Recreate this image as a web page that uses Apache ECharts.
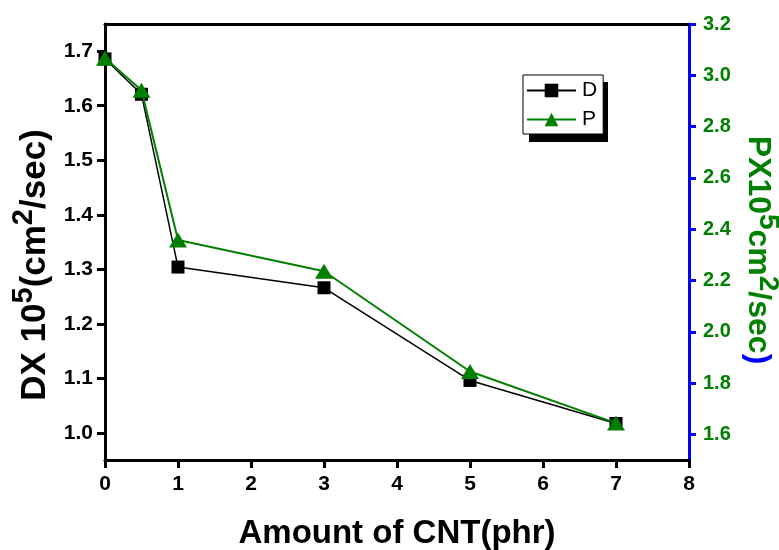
<!DOCTYPE html>
<html>
<head>
<meta charset="utf-8">
<script src="https://cdn.jsdelivr.net/npm/echarts@6/dist/echarts.min.js"></script>
<style>html,body{margin:0;padding:0;background:#fff;}#chart{width:779px;height:550px;}</style>
</head>
<body>
<div id="chart"></div>
<script>
const cntAmount = [0, 0.5, 1, 3, 5, 7];
const dValues = [1.686, 1.621, 1.304, 1.266, 1.096, 1.017];
const pValues = [3.066, 2.942, 2.358, 2.236, 1.845, 1.644];
const leftTicks = [1.0, 1.1, 1.2, 1.3, 1.4, 1.5, 1.6, 1.7];
const rightTicks = [1.6, 1.8, 2.0, 2.2, 2.4, 2.6, 2.8, 3.0, 3.2];
const xTicks = [0, 1, 2, 3, 4, 5, 6, 7, 8];

const FONT = 'Liberation Sans';
const GREEN = '#008000';
const BLUE = '#0000ff';

const chart = echarts.init(document.getElementById('chart'), null, {renderer: 'canvas'});

function titleRich(color, size, supSize, raise) {
  return {
    b: {fontFamily: FONT, fontSize: size, fontWeight: 'bold', color: color, verticalAlign: 'bottom', lineHeight: size + 14},
    s: {fontFamily: FONT, fontSize: supSize, fontWeight: 'bold', color: color, verticalAlign: 'bottom', padding: [0, 0, raise, 0]},
    p: {fontFamily: FONT, fontSize: size, fontWeight: 'bold', color: BLUE, verticalAlign: 'bottom', lineHeight: size + 14}
  };
}

chart.setOption({
  animation: false,
  backgroundColor: '#fff',
  grid: {left: 105, right: 90, top: 24, bottom: 90, containLabel: false, outerBoundsMode: 'none'},
  graphic: [{
    type: 'rect', left: 529, top: 82, z: 0, silent: true,
    shape: {width: 79, height: 60},
    style: {fill: '#000'}
  }],
  legend: {
    left: 523, top: 75, z: 5,
    orient: 'vertical',
    itemWidth: 49, itemHeight: 17, itemGap: 8,
    padding: [5, 6, 4, 3],
    backgroundColor: '#fff',
    borderColor: '#000', borderWidth: 1,
    textStyle: {fontFamily: FONT, fontSize: 21, color: '#000', padding: [0, 0, 0, 1]},
    data: ['D', 'P']
  },
  xAxis: [{
    type: 'value', min: 0, max: 8, interval: 1, position: 'bottom',
    name: 'Amount of CNT(phr)', nameLocation: 'middle', nameGap: 57,
    nameTextStyle: {fontFamily: FONT, fontSize: 33, fontWeight: 'bold', color: '#000'},
    axisLine: {show: true, onZero: false, lineStyle: {color: '#000', width: 3}},
    axisTick: {show: true, inside: false, length: 8, lineStyle: {color: '#000', width: 3}},
    axisLabel: {fontFamily: FONT, fontSize: 21, fontWeight: 'bold', color: '#000', margin: 14,
      customValues: xTicks, formatter: v => String(v)},
    splitLine: {show: false}
  }, {
    type: 'value', min: 0, max: 8, position: 'top',
    axisLine: {show: true, onZero: false, lineStyle: {color: '#000', width: 3}},
    axisTick: {show: false}, axisLabel: {show: false}, splitLine: {show: false}
  }],
  yAxis: [{
    type: 'value', min: 0.95, max: 1.75, position: 'left',
    name: '{b|DX 10}{s|5}{b|(cm}{s|2}{b|/sec)}', nameLocation: 'middle', nameGap: 50, nameRotate: 90,
    nameTextStyle: {rich: titleRich('#000', 35, 29, 14), padding: [0, 46, 0, 0]},
    axisLine: {show: true, onZero: false, lineStyle: {color: '#000', width: 3}},
    axisTick: {show: true, inside: false, length: 8, lineStyle: {color: '#000', width: 3}, customValues: leftTicks},
    axisLabel: {fontFamily: FONT, fontSize: 21, fontWeight: 'bold', color: '#000', margin: 12,
      customValues: leftTicks, formatter: v => v.toFixed(1)},
    splitLine: {show: false}
  }, {
    type: 'value', min: 1.5, max: 3.2, position: 'right',
    name: '{b|PX10}{s|5}{b|cm}{s|2}{b|/sec}{p|)}', nameLocation: 'middle', nameGap: 47, nameRotate: -90,
    nameTextStyle: {rich: titleRich(GREEN, 32, 28, 12), padding: [0, 0, 0, 16]},
    axisLine: {show: true, onZero: false, lineStyle: {color: BLUE, width: 3}},
    axisTick: {show: true, inside: false, length: 7, lineStyle: {color: BLUE, width: 3}, customValues: rightTicks},
    axisLabel: {fontFamily: FONT, fontSize: 20, fontWeight: 'bold', color: GREEN, margin: 14,
      customValues: rightTicks, formatter: v => v.toFixed(1)},
    splitLine: {show: false}
  }],
  series: [{
    name: 'D', type: 'line', xAxisIndex: 0, yAxisIndex: 0,
    data: cntAmount.map((x, i) => [x, dValues[i]]),
    symbol: 'rect', symbolSize: 13,
    lineStyle: {color: '#000', width: 1.5},
    itemStyle: {color: '#000'},
    z: 2
  }, {
    name: 'P', type: 'line', xAxisIndex: 0, yAxisIndex: 1,
    data: cntAmount.map((x, i) => [x, pValues[i]]),
    symbol: 'triangle', symbolSize: [18, 15],
    lineStyle: {color: GREEN, width: 2},
    itemStyle: {color: GREEN},
    z: 3
  }]
});
</script>
</body>
</html>
